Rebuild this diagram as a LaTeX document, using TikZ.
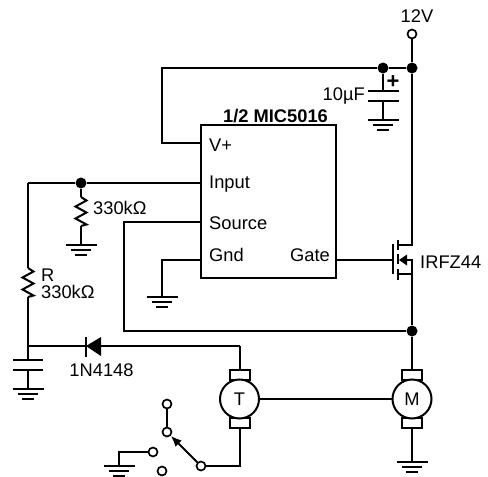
\documentclass[tikz,border=0pt]{standalone}
\usepackage{fontspec}
\setmainfont{Liberation Sans}
\usetikzlibrary{arrows.meta}
\tikzset{
  wire/.style={line width=2pt},
  lbl/.style={inner sep=0pt,font=\fontsize{18.3}{20}\selectfont},
  dot/.style={circle,fill=black,draw=none,minimum size=11pt,inner sep=0pt},
  term/.style={circle,draw=black,fill=white,line width=1.7pt,minimum size=9pt,inner sep=0pt},
  motor/.style={circle,draw=black,fill=white,line width=2pt,minimum size=39pt,inner sep=0pt,font=\fontsize{18.3}{20}\selectfont},
  brush/.style={draw=black,fill=white,line width=2pt,minimum width=20pt,minimum height=10pt,inner sep=0pt},
  gnd/.pic={\draw[wire] (-15.5,0)--(15.5,0) (-10,5)--(10,5) (-6,9.5)--(6,9.5);},
  zig/.pic={\draw[wire,line join=miter] (0,0)--(5.5,3.5)--(-5.5,9.5)--(5.5,15.5)--(-5.5,21.5)--(5.5,27.5)--(0,29);}
}
\begin{document}
\begin{tikzpicture}[x=1pt,y=-1pt]
\useasboundingbox (0,0) rectangle (488,477);
% IC
\node[draw=black,line width=2pt,minimum width=135pt,minimum height=153pt,inner sep=0pt] (ic) at (268.5,201.5) {};
\node[lbl,font=\bfseries\fontsize{18.3}{20}\selectfont] (ictitle) at (275.5,116) {1/2 MIC5016};
\node[lbl,anchor=west] (tv) at (209,145) {V+};
\node[lbl,anchor=west] (ti) at (209,184) {Input};
\node[lbl,anchor=west] (ts) at (209,223) {Source};
\node[lbl,anchor=west] (tg) at (209,255) {Gnd};
\node[lbl,anchor=east] (tgt) at (330,255) {Gate};
\coordinate (pv) at (201,143);
\coordinate (pi) at (201,183);
\coordinate (ps) at (201,222);
\coordinate (pg) at (201,260);
\coordinate (pgt) at (336,260);
% supply
\node[term] (v12) at (412,34) {};
\node[lbl] (l12) at (417,16) {12V};
\node[dot] (dtop) at (412,68) {};
\node[dot] (dcap) at (383,68) {};
\node[dot] (dinp) at (81,183) {};
\node[dot] (dsrc) at (412,331) {};
\draw[wire] (v12)--(dtop);
\draw[wire] (dtop)--(dcap);
\draw[wire] (dcap) -- (162,68) -- (162,143) -- (pv);
% 10uF
\coordinate (c1a) at (383,91);
\coordinate (c1b) at (383,101);
\coordinate (g1) at (383,120);
\draw[wire] (dcap)--(c1a);
\draw[wire] (368,91)--(399,91) (368,101)--(399,101);
\draw[wire] (c1b)--(g1);
\pic at (g1) {gnd};
\node[lbl,font=\bfseries\fontsize{22}{24}\selectfont] (plus) at (393,82) {+};
\node[lbl,anchor=east] (l10) at (365,96) {10µF};
% input network
\coordinate (ctl) at (28,183);
\coordinate (r1t) at (81,197);
\coordinate (r1b) at (81,226);
\coordinate (g2) at (81,245);
\draw[wire] (pi)--(dinp);
\draw[wire] (dinp)--(ctl);
\draw[wire] (dinp)--(r1t);
\pic at (r1t) {zig};
\draw[wire] (r1b)--(g2);
\pic at (g2) {gnd};
\node[lbl,anchor=west] (l330a) at (93,208) {330kΩ};
\coordinate (r2t) at (28,268);
\coordinate (r2b) at (28,297);
\draw[wire] (ctl)--(r2t);
\pic at (r2t) {zig};
\node[lbl,anchor=west] (lr) at (41,275) {R};
\node[lbl,anchor=west] (l330b) at (41,292) {330kΩ};
\coordinate (jc) at (28,346);
\draw[wire] (r2b)--(jc);
\coordinate (c2a) at (28,360);
\coordinate (c2b) at (28,370);
\coordinate (g3) at (28,389);
\draw[wire] (jc)--(c2a);
\draw[wire] (13,360)--(43,360) (13,370)--(43,370);
\draw[wire] (c2b)--(g3);
\pic at (g3) {gnd};
% diode
\coordinate (dk) at (86,346);
\coordinate (da) at (101,346);
\draw[wire] (jc)--(dk);
\fill (dk)--(da|-0,337)--(da|-0,356)--cycle;
\draw[wire] (86,336.5)--(86,356.5);
\node[lbl] (l1n) at (101.5,370) {1N4148};
% source and gnd
\draw[wire] (ps) -- (124,222) -- (124,331) -- (dsrc);
\coordinate (g4) at (162,297);
\draw[wire] (pg) -- (162,260) -- (g4);
\pic at (g4) {gnd};
% MOSFET
\coordinate (gb) at (393,260);
\draw[wire] (pgt)--(gb);
\draw[wire] (393,244)--(393,274);
\draw[wire] (398,240)--(398,250) (398,254)--(398,264) (398,269)--(398,280);
\draw[wire] (dtop) -- (412,245) -- (398,245);
\draw[wire] (398,274) -- (412,274) -- (412,260) -- (405,260);
\fill (399,260)--(407,254.5)--(407,265.5)--cycle;
\draw[wire] (412,274)--(dsrc);
\node[lbl,anchor=west] (lirf) at (420,262) {IRFZ44};
% motors
\node[brush] (mt) at (412,375) {};
\node[brush] (mb) at (412,423) {};
\node[brush] (tt) at (239.5,375) {};
\node[brush] (tb) at (239.5,423) {};
\node[motor] (M) at (412,399) {M};
\node[motor] (T) at (239.5,399) {T};
\draw[wire] (T)--(M);
\draw[wire] (dsrc)--(mt);
\coordinate (g5) at (412,462);
\draw[wire] (mb)--(g5);
\pic at (g5) {gnd};
\draw[wire] (239.5,346) -- (da);
\draw[wire] (239.5,346) -- (tt);
% switch
\node[term] (s1) at (167,404) {};
\node[term] (s2) at (167,432) {};
\node[term] (s3) at (153,452) {};
\node[term] (s4) at (162,471) {};
\node[term] (s5) at (201,466) {};
\draw[wire] (s1)--(s2);
\draw[wire] (tb) -- (239.5,466) -- (s5);
\draw[wire,-{Latex[length=11pt,width=9pt]}] (s5)--(s2);
\coordinate (g6) at (119,466);
\draw[wire] (s3) -- (119,452) -- (g6);
\pic at (g6) {gnd};
\end{tikzpicture}
\end{document}
